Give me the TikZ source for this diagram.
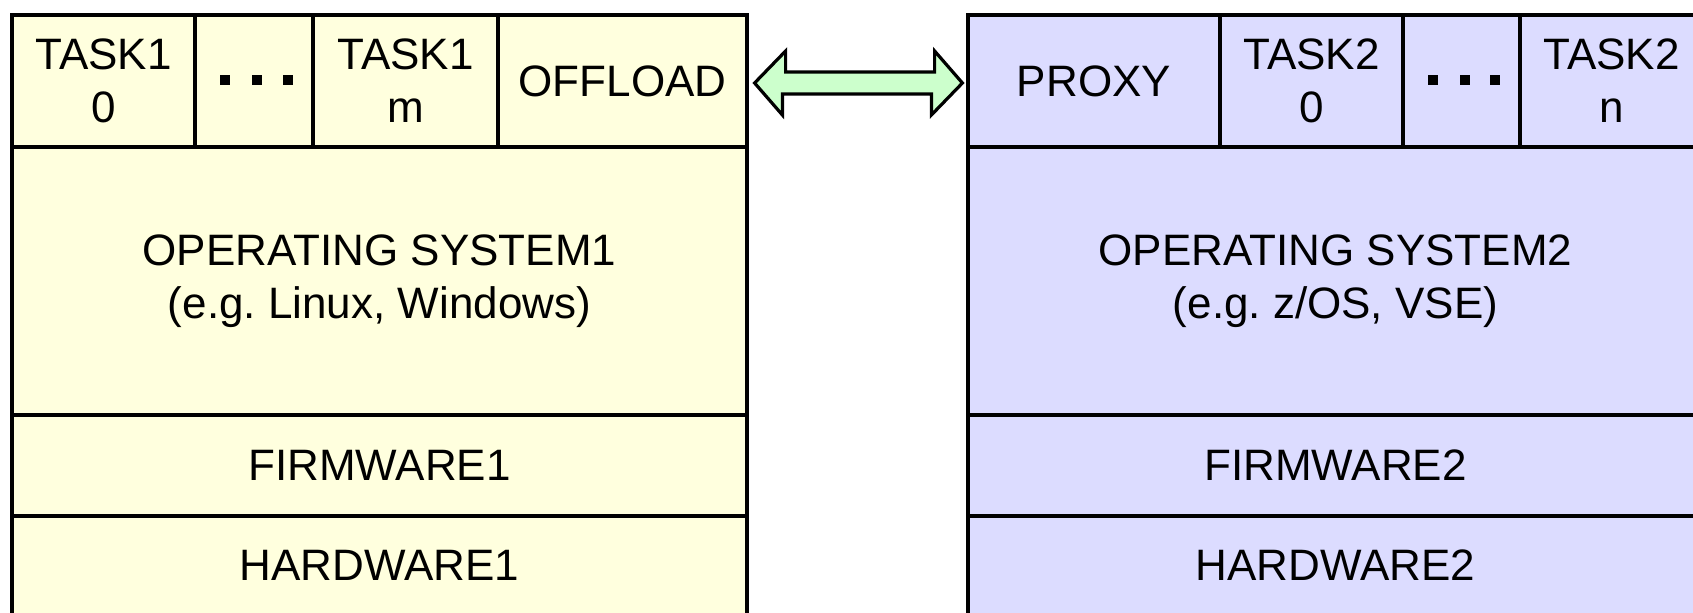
\documentclass[tikz,border=0pt]{standalone}
\usepackage{fontspec}
\setmainfont{Liberation Sans}
\usetikzlibrary{calc}
\definecolor{yfill}{RGB}{255,255,222}
\definecolor{bfill}{RGB}{220,220,255}
\definecolor{gfill}{RGB}{204,255,204}
\frenchspacing
\begin{document}
\begin{tikzpicture}[x=0.5pt,y=-0.5pt,
  cell/.style={draw=black, line width=1.6pt, inner sep=0pt, align=center,
    font=\fontsize{22}{26.5}\selectfont},
  yel/.style={cell, fill=yfill},
  blu/.style={cell, fill=bfill},
  dot/.style={fill=black},
  dblarrow/.style={draw=black, fill=gfill, line width=1.6pt, line join=miter}]
\useasboundingbox (0,0) rectangle (1693,612);
\clip (0,0) rectangle (1693,612);
\fill[white] (0,0) rectangle (1693,612);

% left stack
\node[yel, minimum width=367.5pt, minimum height=134pt] (os1) at (379.5,281) {OPERATING SYSTEM1\\(e.g. Linux, Windows)};
\node[yel, minimum width=367.5pt, minimum height=50.5pt] (fw1) at (379.5,465.5) {FIRMWARE1};
\node[yel, minimum width=367.5pt, minimum height=49.5pt] (hw1) at (379.5,565.5) {HARDWARE1};
\node[yel, minimum width=91.5pt, minimum height=66pt] (t10) at (103.5,81) {TASK1\\0};
\node[yel, minimum width=59pt, minimum height=66pt] (d1) at (254,81) {};
\node[yel, minimum width=92.5pt, minimum height=66pt] (t1m) at (405.5,81) {TASK1\\m};
\node[yel, minimum width=124.5pt, minimum height=66pt] (off) at (622.5,81) {OFFLOAD};
\fill[dot] (220,75) rectangle ++(10,10);
\fill[dot] (252,75) rectangle ++(10,10);
\fill[dot] (283,75) rectangle ++(10,10);

% right stack
\node[blu, minimum width=367.5pt, minimum height=134pt] (os2) at (1335.5,281) {OPERATING SYSTEM2\\(e.g. z/OS, VSE)};
\node[blu, minimum width=367.5pt, minimum height=50.5pt] (fw2) at (1335.5,465.5) {FIRMWARE2};
\node[blu, minimum width=367.5pt, minimum height=49.5pt] (hw2) at (1335.5,565.5) {HARDWARE2};
\node[blu, minimum width=126pt, minimum height=66pt] (prx) at (1094,81) {PROXY};
\node[blu, minimum width=91.5pt, minimum height=66pt] (t20) at (1311.5,81) {TASK2\\0};
\node[blu, minimum width=58.5pt, minimum height=66pt] (d2) at (1461.5,81) {};
\node[blu, minimum width=91.5pt, minimum height=66pt] (t2n) at (1611.5,81) {TASK2\\n};
\fill[dot] (1428,75) rectangle ++(10,10);
\fill[dot] (1460,75) rectangle ++(10,10);
\fill[dot] (1490,75) rectangle ++(10,10);

% double arrow between OFFLOAD and PROXY
\draw[dblarrow] ($(off.east)+(6,2)$) -- ++(31,-32) -- ++(0,21) -- ++(149,0)
  -- ++(0,-21) -- ($(prx.west)+(-4,2)$) -- ++(-31,32) -- ++(0,-21)
  -- ++(-149,0) -- ++(0,21) -- cycle;
\end{tikzpicture}
\end{document}
